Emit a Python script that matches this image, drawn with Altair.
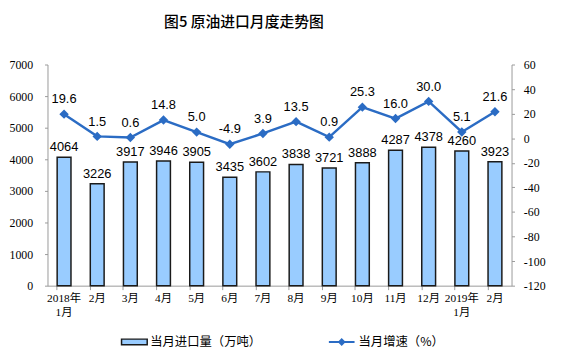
import altair as alt
import pandas as pd

months = ["2018年|1月", "2月", "3月", "4月", "5月", "6月", "7月", "8月", "9月",
          "10月", "11月", "12月", "2019年|1月", "2月 "]
volume = [4064, 3226, 3917, 3946, 3905, 3435, 3602, 3838, 3721, 3888, 4287, 4378, 4260, 3923]
growth = [19.6, 1.5, 0.6, 14.8, 5.0, -4.9, 3.9, 13.5, 0.9, 25.3, 16.0, 30.0, 5.1, 21.6]
left_ticks = [0, 1000, 2000, 3000, 4000, 5000, 6000, 7000]
right_ticks = [-120, -100, -80, -60, -40, -20, 0, 20, 40, 60]
bar_name = "当月进口量（万吨）"
line_name = "当月增速（%）"

df = pd.DataFrame({
    "month": months,
    "volume": volume,
    "growth": growth,
    "vlab": [str(v) for v in volume],
    "glab": [f"{g:.1f}" for g in growth],
    "s1": bar_name,
    "s2": line_name,
})

SERIF = "Liberation Serif, Noto Sans CJK SC"
SANS = "Liberation Sans, Arial"
CJK = "Noto Sans CJK SC"
BLUE = "#2B6CC4"

xaxis = alt.Axis(labelExpr="split(datum.label, '|')", labelAngle=0,
                 labelFont=SERIF, labelFontSize=11.5, labelColor="#000",
                 domainColor="#999", tickColor="#999", tickSize=4,
                 bandPosition=0, labelPadding=3, labelLineHeight=14)
xscale = alt.Scale(paddingInner=0.58, paddingOuter=0.29)
x = alt.X("month:N", sort=months, title=None, scale=xscale, axis=xaxis)

lscale = alt.Scale(domain=[0, 7000], nice=False)
laxis = alt.Axis(values=left_ticks, grid=False, labelFont=SERIF, labelExpr="'' + datum.value",
                 labelOverlap=False, labelFontSize=12, labelColor="#000",
                 domainColor="#999", tickColor="#999", tickSize=3, labelPadding=12)
rscale = alt.Scale(domain=[-120, 60], nice=False)
raxis = alt.Axis(orient="right", values=right_ticks, grid=False, labelFont=SERIF,
                 labelExpr="'' + datum.value", labelOverlap=False, labelFontSize=12,
                 labelColor="#000", domainColor="#999", tickColor="#999", tickSize=3,
                 labelPadding=9)

base = alt.Chart(df)

bars = base.mark_bar(size=14, stroke="#1a1a1a", strokeWidth=1.5).encode(
    x=x,
    y=alt.Y("volume:Q", title=None, scale=lscale, axis=laxis),
    fill=alt.Fill("s1:N", scale=alt.Scale(domain=[bar_name], range=["#99CCFF"]),
                  legend=alt.Legend(orient="none", legendX=74, legendY=267, title=None,
                                    symbolType="M-1,-0.22H1V0.22H-1Z", symbolSize=676,
                                    symbolStrokeColor="#1a1a1a", symbolStrokeWidth=1.5,
                                    labelFont=CJK, labelFontSize=12.5, labelColor="#000",
                                    labelOffset=2)),
)

bar_text = base.mark_text(baseline="bottom", dy=-3, font=SANS, fontSize=13, color="#000").encode(
    x=x,
    y=alt.Y("volume:Q", title=None, scale=lscale, axis=laxis),
    text="vlab:N",
)

left = alt.layer(bars, bar_text)

line = base.mark_line(color=BLUE, strokeWidth=2.5,
                      point=alt.OverlayMarkDef(shape="diamond", filled=True, size=45, color=BLUE)).encode(
    x=x,
    y=alt.Y("growth:Q", title=None, scale=rscale, axis=raxis),
    stroke=alt.Stroke("s2:N", scale=alt.Scale(domain=[line_name], range=[BLUE]),
                      legend=alt.Legend(orient="none", legendX=284, legendY=267, title=None,
                                        symbolType="M-1,0H1M0,-0.2L0.2,0L0,0.2L-0.2,0Z",
                                        symbolSize=676, symbolFillColor=BLUE,
                                        symbolStrokeWidth=2,
                                        labelFont=CJK, labelFontSize=12.5, labelColor="#000",
                                        labelOffset=3)),
)

line_text = base.mark_text(baseline="bottom", dy=-8, font=SANS, fontSize=13, color="#000").encode(
    x=x,
    y=alt.Y("growth:Q", title=None, scale=rscale, axis=raxis),
    text="glab:N",
)

right = alt.layer(line, line_text)

chart = alt.layer(left, right).resolve_scale(
    y="independent", fill="independent", stroke="independent"
).resolve_legend(fill="independent", stroke="independent").properties(
    width=470, height=224,
    autosize=alt.AutoSizeParams(type="none"),
    padding={"left": 40, "top": 55, "right": 42, "bottom": 70},
    title=alt.TitleParams("图5  原油进口月度走势图", font=CJK, fontSize=15,
                          fontWeight=500, color="#000", anchor="middle", offset=29, dx=-36),
).configure_view(stroke=None).configure_axis(
    domainWidth=1, tickWidth=1
)

chart.save("out.html", embed_options={"renderer": "svg", "actions": False})
